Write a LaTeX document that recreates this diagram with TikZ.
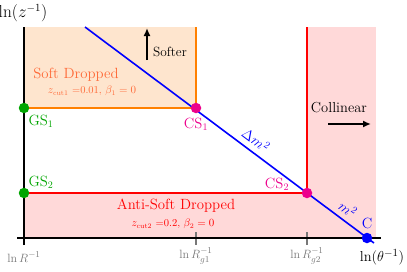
\documentclass[tikz,border=0pt]{standalone}
\usetikzlibrary{arrows.meta}
\definecolor{softfill}{RGB}{254,229,206}
\definecolor{pinkfill}{RGB}{255,217,217}
\definecolor{orline}{RGB}{255,128,0}
\definecolor{ortext}{RGB}{255,105,55}
\definecolor{mygreen}{RGB}{0,165,0}
\definecolor{tickgray}{RGB}{120,120,120}
\begin{document}
\begin{tikzpicture}[x=1pt,y=-1pt,
  dot/.style={circle,fill=#1,inner sep=0pt,minimum size=10.5pt},
  big/.style={font=\fontsize{14.8}{17}\selectfont},
  small/.style={font=\fontsize{10.5}{12}\selectfont},
  ticklab/.style={font=\fontsize{13}{15}\selectfont,text=tickgray},
  axis/.style={line width=1.8pt,black},
  bline/.style={line width=1.6pt,blue},
  arr/.style={line width=1.8pt,-{Latex[length=8pt,width=7pt]}}]
\useasboundingbox (0,0) rectangle (407,271);
% regions
\fill[softfill] (24,27) rectangle (196,108);
\fill[pinkfill] (307,27) rectangle (376,238);
\fill[pinkfill] (24,193) rectangle (307,238);
% coordinates
\coordinate (ytop) at (24,27);
\coordinate (ybot) at (24,245);
\coordinate (xl) at (17,238);
\coordinate (xr) at (381,238);
\coordinate (otop) at (196,27);
\coordinate (rtop) at (307,27);
\coordinate (btop) at (85,27);
\coordinate (bend) at (374,243);
% orange and red boundaries
\draw[orline,line width=1.6pt] (otop) -- (196,108) -- (24,108);
\draw[red,line width=1.6pt] (rtop) -- (307,193) -- (24,193);
% ticks
\draw[tickgray,line width=1.2pt] (196,232) -- (196,245);
\draw[tickgray,line width=1.2pt] (307,232) -- (307,245);
% axes
\draw[axis] (ybot) -- (ytop);
\draw[axis] (xl) -- (xr);
% blue line
\draw[bline] (btop) -- (bend);
% dots
\node[dot=mygreen] (GS1) at (24,108) {};
\node[dot=mygreen] (GS2) at (24,193) {};
\node[dot=magenta] (CS1) at (196,108) {};
\node[dot=magenta] (CS2) at (307,193) {};
\node[dot=blue] (C) at (367,238) {};
% point labels
\node[big,text=mygreen] (lGS1) at (41,121) {GS$_1$};
\node[big,text=mygreen] (lGS2) at (41,182) {GS$_2$};
\node[big,text=magenta] (lCS1) at (196,124) {CS$_1$};
\node[big,text=magenta] (lCS2) at (277,184) {CS$_2$};
\node[big,text=blue] (lC) at (367,223) {C};
% line labels
\node[big,text=blue,rotate=-37,inner sep=0pt] (dm) at (256,140) {$\Delta m^2$};
\node[big,text=blue,rotate=-37,inner sep=0pt] (m2) at (348,209) {$m^2$};
% region labels
\node[big,text=ortext] (sd) at (76,75) {Soft Dropped};
\node[small,text=ortext] (sdp) at (92,91) {$z_{\mathrm{cut1}}$ =0.01, $\beta_1=0$};
\node[big,text=red] (asd) at (176,206) {Anti-Soft Dropped};
\node[small,text=red] (asdp) at (173,224) {$z_{\mathrm{cut2}}$ =0.2, $\beta_2=0$};
% softer / collinear
\coordinate (sa1) at (147,60);
\coordinate (sa2) at (147,28);
\draw[arr] (sa1) -- (sa2);
\node[font=\fontsize{13.3}{15}\selectfont] (soft) at (170,52) {Softer};
\node[font=\fontsize{14.5}{16}\selectfont] (coll) at (339,108) {Collinear};
\coordinate (ca1) at (328,124);
\coordinate (ca2) at (371,124);
\draw[arr] (ca1) -- (ca2);
% tick labels
\node[ticklab] (t0) at (24,257) {$\ln R^{-1}$};
\node[ticklab] (t1) at (196,256) {$\ln R_{g1}^{-1}$};
\node[ticklab] (t2) at (307,256) {$\ln R_{g2}^{-1}$};
% axis labels
\node[font=\fontsize{16}{18}\selectfont] (ylab) at (23,13) {$\ln(z^{-1})$};
\node[font=\fontsize{15.5}{17}\selectfont] (xlab) at (382,257) {$\ln(\theta^{-1})$};
\end{tikzpicture}
\end{document}
